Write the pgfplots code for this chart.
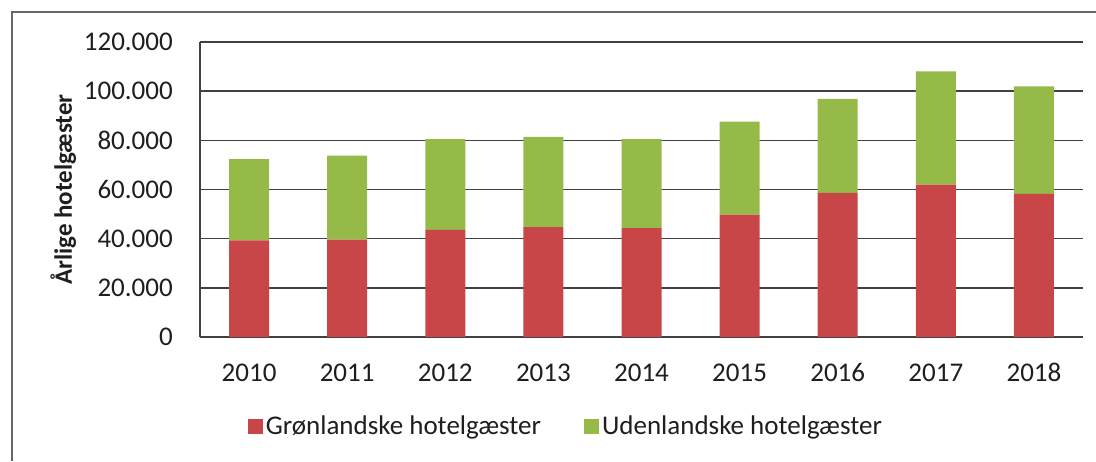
\documentclass[border=0pt]{standalone}
\usepackage{pgfplots}
\pgfplotsset{compat=1.18}
\usepackage{fontspec}
\setmainfont{Carlito}
\definecolor{gronred}{RGB}{200,70,72}
\definecolor{udengreen}{RGB}{150,186,72}
\definecolor{gridgray}{RGB}{65,65,65}
\definecolor{txt}{RGB}{30,30,30}
\begin{document}
\fontsize{27}{32}\selectfont
\begin{tikzpicture}[x=1pt,y=1pt]
\useasboundingbox (-200,-124) rectangle (896,337);
\draw[gridgray!80,line width=1.2pt] (-188,-124) -- (-188,325) -- (896,325);
\begin{axis}[
  at={(0,0)}, anchor=south west,
  scale only axis, width=883pt, height=295pt,
  ybar stacked, bar width=40pt,
  xmin=-0.5, xmax=8.5, ymin=0, ymax=120000,
  xtick=data,
  xticklabels={2010,2011,2012,2013,2014,2015,2016,2017,2018},
  ytick={0,20000,40000,60000,80000,100000,120000},
  yticklabels={0,20.000,40.000,60.000,80.000,100.000,120.000},
  scaled y ticks=false,
  major tick length=0pt,
  axis x line=bottom, axis y line=left,
  axis line style={gridgray, line width=1.4pt, -},
  ymajorgrids, major grid style={gridgray, line width=1.4pt},
  yticklabel style={text=txt, anchor=east, xshift=-18pt},
  xticklabel style={text=txt, anchor=north, yshift=-18pt, text height=17pt, text depth=0pt},
  ylabel={\fontsize{25}{30}\selectfont\bfseries Årlige hotelgæster},
  ylabel style={text=txt, at={(axis description cs:-0.155,0.5)}, anchor=center},
  legend style={draw=none, fill=none, text=txt, at={(axis description cs:0.415,-0.305)}, anchor=center, legend columns=2, nodes={inner xsep=3pt}, /tikz/every even column/.append style={column sep=40pt}},
]
\addplot[fill=gronred, draw=none, legend image code/.code={\fill[gronred] (0pt,-7.5pt) rectangle (15pt,7.5pt);}] coordinates {
(0,39300) (1,39600) (2,43600) (3,44700) (4,44300) (5,49800) (6,58600) (7,62000) (8,58200)};
\addlegendentry{Grønlandske hotelgæster}
\addplot[fill=udengreen, draw=none, legend image code/.code={\fill[udengreen] (0pt,-7.5pt) rectangle (15pt,7.5pt);}] coordinates {
(0,33100) (1,34200) (2,36900) (3,36700) (4,36200) (5,37800) (6,38300) (7,46100) (8,43800)};
\addlegendentry{Udenlandske hotelgæster}
\end{axis}
\end{tikzpicture}
\end{document}
